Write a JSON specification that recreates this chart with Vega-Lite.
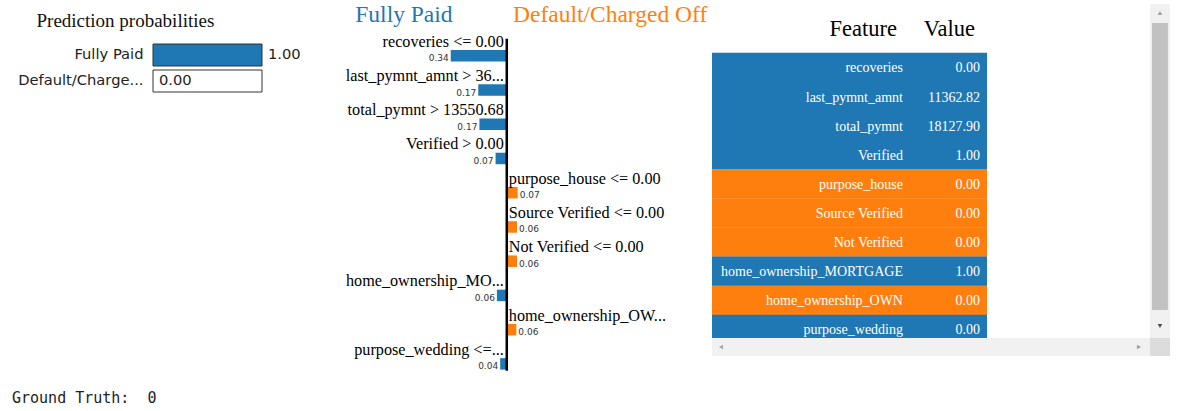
{
  "$schema": "https://vega.github.io/schema/vega-lite/v6.json",
  "autosize": {"type": "pad"},
  "padding": {"left": 12, "top": 1, "right": 5, "bottom": 5},
  "background": "white",
  "datasets": {
    "probs": [
      {"class": "Fully Paid", "prob": 1.0},
      {"class": "Default/Charged Off", "prob": 0.0}
    ],
    "expl": [
      {"rank": 1, "feature": "recoveries", "condition": "recoveries <= 0.00", "weight": -0.34, "value": 0.0},
      {"rank": 2, "feature": "last_pymnt_amnt", "condition": "last_pymnt_amnt > 36...", "weight": -0.173, "value": 11362.82},
      {"rank": 3, "feature": "total_pymnt", "condition": "total_pymnt > 13550.68", "weight": -0.166, "value": 18127.90},
      {"rank": 4, "feature": "Verified", "condition": "Verified > 0.00", "weight": -0.068, "value": 1.0},
      {"rank": 5, "feature": "purpose_house", "condition": "purpose_house <= 0.00", "weight": 0.066, "value": 0.0},
      {"rank": 6, "feature": "Source Verified", "condition": "Source Verified <= 0.00", "weight": 0.062, "value": 0.0},
      {"rank": 7, "feature": "Not Verified", "condition": "Not Verified <= 0.00", "weight": 0.062, "value": 0.0},
      {"rank": 8, "feature": "home_ownership_MORTGAGE", "condition": "home_ownership_MO...", "weight": -0.06, "value": 1.0},
      {"rank": 9, "feature": "home_ownership_OWN", "condition": "home_ownership_OW...", "weight": 0.058, "value": 0.0},
      {"rank": 10, "feature": "purpose_wedding", "condition": "purpose_wedding <=...", "weight": -0.04, "value": 0.0}
    ]
  },
  "title": {
    "text": "Ground Truth: \u00a00",
    "orient": "bottom",
    "anchor": "start",
    "frame": "group",
    "dx": -141,
    "offset": 22,
    "baseline": "alphabetic",
    "font": "DejaVu Sans Mono",
    "fontSize": 15,
    "fontWeight": "normal",
    "color": "#222"
  },
  "hconcat": [
    {
      "width": 109,
      "height": 91,
      "data": {"name": "probs"},
      "encoding": {
        "y": {
          "field": "class",
          "type": "nominal",
          "sort": null,
          "scale": {"range": [43, 91], "paddingInner": 0.154, "paddingOuter": 0},
          "axis": {
            "title": "Prediction probabilities",
            "titleAngle": 0,
            "titleAlign": "left",
            "titleBaseline": "alphabetic",
            "titleX": -117,
            "titleY": 25,
            "titleFont": "Liberation Serif",
            "titleFontSize": 19,
            "titleFontWeight": "normal",
            "titleColor": "#111",
            "ticks": false,
            "domain": false,
            "labelPadding": 10,
            "labelFont": "DejaVu Sans",
            "labelFontSize": 14.7,
            "labelColor": "#222",
            "labelLimit": 300,
            "labelExpr": "length(datum.label) > 14 ? slice(datum.label, 0, 14) + '...' : datum.label"
          }
        }
      },
      "layer": [
        {
          "mark": {"type": "bar"},
          "encoding": {
            "x": {"field": "prob", "type": "quantitative", "scale": {"domain": [0, 1], "nice": false, "padding": 0}, "axis": null},
            "color": {"condition": {"test": "datum['class'] === 'Fully Paid'", "value": "#1f77b4"}, "value": "#ff7f0e"}
          }
        },
        {
          "mark": {"type": "bar", "fillOpacity": 0, "stroke": "#333", "strokeWidth": 1},
          "encoding": {
            "x": {"datum": 0, "type": "quantitative"},
            "x2": {"datum": 1}
          }
        },
        {
          "mark": {"type": "text", "align": "left", "dx": 6, "baseline": "middle", "font": "DejaVu Sans", "fontSize": 14.7, "color": "#222"},
          "encoding": {
            "x": {"field": "prob", "type": "quantitative"},
            "text": {"field": "prob", "type": "quantitative", "format": ".2f"}
          }
        }
      ]
    },
    {
      "width": 422,
      "height": 380,
      "data": {"name": "expl"},
      "layer": [
        {
          "mark": {"type": "bar", "orient": "horizontal", "height": 11.5},
          "encoding": {
            "x": {"field": "weight", "type": "quantitative", "scale": {"domain": [-1.4, 1.16], "nice": false, "zero": false, "padding": 0}, "axis": null},
            "y": {"field": "rank", "type": "quantitative", "scale": {"domain": [-0.6, 10.5], "reverse": true, "nice": false, "zero": false, "padding": 0}, "axis": null},
            "color": {"condition": {"test": "datum.weight < 0", "value": "#1f77b4"}, "value": "#ff7f0e"}
          }
        },
        {
          "data": {"values": [{}]},
          "mark": {"type": "rule", "strokeWidth": 2.5, "color": "#000"},
          "encoding": {
            "x": {"datum": 0, "type": "quantitative"},
            "y": {"datum": 0.5, "type": "quantitative"},
            "y2": {"datum": 10.2}
          }
        },
        {
          "mark": {
            "type": "text",
            "font": "Liberation Serif",
            "fontSize": 16.2,
            "baseline": "alphabetic",
            "dy": -9,
            "color": "#000",
            "align": {"expr": "datum.weight < 0 ? 'right' : 'left'"},
            "dx": {"expr": "datum.weight < 0 ? -3 : 2"}
          },
          "encoding": {
            "x": {"datum": 0, "type": "quantitative"},
            "y": {"field": "rank", "type": "quantitative"},
            "text": {"field": "condition"}
          }
        },
        {
          "mark": {
            "type": "text",
            "font": "DejaVu Sans",
            "fontSize": 9,
            "baseline": "alphabetic",
            "dy": 5.5,
            "color": "#333",
            "align": {"expr": "datum.weight < 0 ? 'right' : 'left'"},
            "dx": {"expr": "datum.weight < 0 ? -2 : 2"},
            "text": {"expr": "format(abs(datum.weight), '.2f')"}
          },
          "encoding": {
            "x": {"field": "weight", "type": "quantitative"},
            "y": {"field": "rank", "type": "quantitative"}
          }
        },
        {
          "data": {"values": [{}]},
          "mark": {"type": "text", "text": "Fully Paid", "font": "Liberation Serif", "fontSize": 23.5, "color": "#1f77b4", "align": "center", "baseline": "alphabetic"},
          "encoding": {
            "x": {"datum": -0.624, "type": "quantitative"},
            "y": {"datum": 0, "type": "quantitative"}
          }
        },
        {
          "data": {"values": [{}]},
          "mark": {"type": "text", "text": "Default/Charged Off", "font": "Liberation Serif", "fontSize": 23.5, "color": "#ff7f0e", "align": "center", "baseline": "alphabetic"},
          "encoding": {
            "x": {"datum": 0.627, "type": "quantitative"},
            "y": {"datum": 0, "type": "quantitative"}
          }
        }
      ]
    },
    {
      "width": 458,
      "height": 355,
      "layer": [
        {
          "data": {"name": "expl"},
          "mark": {"type": "bar", "orient": "horizontal", "height": 29.4},
          "encoding": {
            "x": {"datum": 0, "type": "quantitative", "scale": {"domain": [0, 1.66545], "nice": false, "zero": false, "padding": 0}, "axis": null},
            "x2": {"datum": 1},
            "y": {"field": "rank", "type": "quantitative", "scale": {"domain": [-1.285, 10.914], "reverse": true, "nice": false, "zero": false, "padding": 0}, "axis": null},
            "color": {"condition": {"test": "datum.weight < 0", "value": "#1f77b4"}, "value": "#ff7f0e"}
          }
        },
        {
          "data": {"name": "expl"},
          "mark": {"type": "text", "align": "right", "baseline": "middle", "dy": 1, "font": "Liberation Serif", "fontSize": 14, "color": "white"},
          "encoding": {
            "x": {"datum": 0.6945, "type": "quantitative"},
            "y": {"field": "rank", "type": "quantitative"},
            "text": {"field": "feature"}
          }
        },
        {
          "data": {"name": "expl"},
          "mark": {"type": "text", "align": "right", "baseline": "middle", "dy": 1, "font": "Liberation Serif", "fontSize": 14, "color": "white"},
          "encoding": {
            "x": {"datum": 0.9745, "type": "quantitative"},
            "y": {"field": "rank", "type": "quantitative"},
            "text": {"field": "value", "type": "quantitative", "format": ".2f"}
          }
        },
        {
          "data": {"values": [{}]},
          "mark": {"type": "text", "text": "Feature", "align": "right", "baseline": "alphabetic", "font": "Liberation Serif", "fontSize": 22.5, "color": "#000"},
          "encoding": {
            "x": {"datum": 0.6727, "type": "quantitative"},
            "y": {"datum": -0.082, "type": "quantitative"}
          }
        },
        {
          "data": {"values": [{}]},
          "mark": {"type": "text", "text": "Value", "align": "right", "baseline": "alphabetic", "font": "Liberation Serif", "fontSize": 22.5, "color": "#000"},
          "encoding": {
            "x": {"datum": 0.9564, "type": "quantitative"},
            "y": {"datum": -0.082, "type": "quantitative"}
          }
        },
        {
          "data": {"values": [{}]},
          "mark": {"type": "rect", "color": "#f1f1f1"},
          "encoding": {
            "x": {"datum": 1.5927, "type": "quantitative"},
            "x2": {"datum": 1.66545},
            "y": {"datum": -1.182, "type": "quantitative"},
            "y2": {"datum": 10.296}
          }
        },
        {
          "data": {"values": [{}]},
          "mark": {"type": "rect", "color": "#f1f1f1"},
          "encoding": {
            "x": {"datum": 0, "type": "quantitative"},
            "x2": {"datum": 1.5927},
            "y": {"datum": 10.296, "type": "quantitative"},
            "y2": {"datum": 10.914}
          }
        },
        {
          "data": {"values": [{}]},
          "mark": {"type": "rect", "color": "#dcdcdc"},
          "encoding": {
            "x": {"datum": 1.5927, "type": "quantitative"},
            "x2": {"datum": 1.66545},
            "y": {"datum": 10.296, "type": "quantitative"},
            "y2": {"datum": 10.914}
          }
        },
        {
          "data": {"values": [{}]},
          "mark": {"type": "rect", "color": "#c1c1c1"},
          "encoding": {
            "x": {"datum": 1.6, "type": "quantitative"},
            "x2": {"datum": 1.658},
            "y": {"datum": -0.529, "type": "quantitative"},
            "y2": {"datum": 9.334}
          }
        },
        {
          "data": {"values": [{}]},
          "mark": {"type": "point", "shape": "triangle-up", "filled": true, "size": 22, "color": "#a3a3a3", "opacity": 1},
          "encoding": {
            "x": {"datum": 1.629, "type": "quantitative"},
            "y": {"datum": -0.873, "type": "quantitative"}
          }
        },
        {
          "data": {"values": [{}]},
          "mark": {"type": "point", "shape": "triangle-down", "filled": true, "size": 22, "color": "#505050", "opacity": 1},
          "encoding": {
            "x": {"datum": 1.629, "type": "quantitative"},
            "y": {"datum": 9.884, "type": "quantitative"}
          }
        },
        {
          "data": {"values": [{}]},
          "mark": {"type": "point", "shape": "triangle-left", "filled": true, "size": 22, "color": "#a3a3a3", "opacity": 1},
          "encoding": {
            "x": {"datum": 0.0327, "type": "quantitative"},
            "y": {"datum": 10.605, "type": "quantitative"}
          }
        },
        {
          "data": {"values": [{}]},
          "mark": {"type": "point", "shape": "triangle-right", "filled": true, "size": 22, "color": "#a3a3a3", "opacity": 1},
          "encoding": {
            "x": {"datum": 1.5527, "type": "quantitative"},
            "y": {"datum": 10.605, "type": "quantitative"}
          }
        }
      ]
    }
  ],
  "spacing": 14,
  "bounds": "flush",
  "config": {
    "view": {"stroke": null},
    "title": {"fontWeight": "normal"}
  }
}
